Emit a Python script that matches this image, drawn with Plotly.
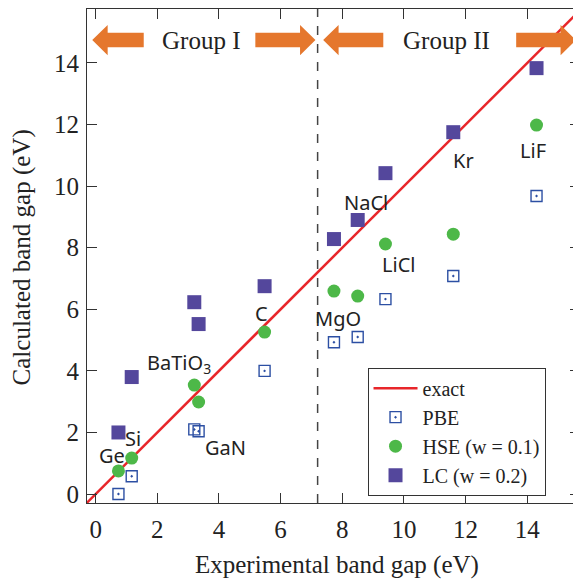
import plotly.graph_objects as go

# ---------------- data ----------------
materials = ["Ge", "Si", "BaTiO<sub>3</sub>", "GaN", "C", "MgO", "NaCl", "LiCl", "Kr", "LiF"]
experimental = [0.74, 1.17, 3.20, 3.34, 5.48, 7.73, 8.50, 9.40, 11.60, 14.30]
pbe = [0.00, 0.58, 2.10, 2.04, 4.00, 4.93, 5.10, 6.33, 7.08, 9.68]
hse = [0.75, 1.17, 3.54, 2.99, 5.26, 6.59, 6.43, 8.12, 8.44, 11.98]
lc = [2.00, 3.80, 6.23, 5.52, 6.75, 8.28, 8.90, 10.42, 11.75, 13.83]
exact_line = [-1.0, 17.0]

x_ticks = [0, 2, 4, 6, 8, 10, 12, 14]
y_ticks = [0, 2, 4, 6, 8, 10, 12, 14]
group_boundary = 7.2
group_names = ["Group I", "Group II"]

# label pixel offsets (relative to the point on the exact line)
label_shift = [(-6, 16), (1, 20), (-15, 32), (27, -56), (-3, 12),
               (4, -62), (8, 30), (13, -60), (10, -24), (-4, -97)]

x_range = [-0.28, 15.71]
y_range = [-0.29, 15.75]

fig = go.Figure()

fig.add_trace(go.Scatter(x=exact_line, y=exact_line, mode="lines", name="exact",
                         line=dict(color="#E8262A", width=2.5)))
fig.add_trace(go.Scatter(x=experimental, y=pbe, mode="markers", name="PBE",
                         marker=dict(symbol="square-open-dot", size=11, color="#2C4FA3",
                                     line=dict(width=1.4, color="#2C4FA3"))))
fig.add_trace(go.Scatter(x=experimental, y=hse, mode="markers", name="HSE (w = 0.1)",
                         marker=dict(symbol="circle", size=13, color="#4DB848")))
fig.add_trace(go.Scatter(x=experimental, y=lc, mode="markers", name="LC (w = 0.2)",
                         marker=dict(symbol="square", size=14, color="#54479C")))

# dashed group boundary
fig.add_shape(type="line", x0=group_boundary, x1=group_boundary, y0=0, y1=1,
              xref="x", yref="paper", line=dict(color="#444444", width=1.5, dash="dash"))

# orange block arrows
yc, hh, sh = 14.74, 0.49, 0.235
head_len = 0.5
arrows = [(-0.11, 1.56, "left"), (5.18, 7.13, "right"),
          (7.38, 9.33, "left"), (13.64, 15.58, "right")]
for a, b, d in arrows:
    if d == "left":
        hb = a + head_len
        path = (f"M {a},{yc} L {hb},{yc+hh} L {hb},{yc+sh} L {b},{yc+sh} "
                f"L {b},{yc-sh} L {hb},{yc-sh} L {hb},{yc-hh} Z")
    else:
        hb = b - head_len
        path = (f"M {b},{yc} L {hb},{yc+hh} L {hb},{yc+sh} L {a},{yc+sh} "
                f"L {a},{yc-sh} L {hb},{yc-sh} L {hb},{yc-hh} Z")
    fig.add_shape(type="path", path=path, xref="x", yref="y",
                  fillcolor="#E5772D", line=dict(width=0))

fig.add_annotation(x=3.41, y=yc, xref="x", yref="y", text=group_names[0], showarrow=False,
                   font=dict(family="Liberation Serif", size=25, color="#222222"))
fig.add_annotation(x=11.39, y=yc, xref="x", yref="y", text=group_names[1], showarrow=False,
                   font=dict(family="Liberation Serif", size=25, color="#222222"))

# material labels
for name, xe, (dx, dy) in zip(materials, experimental, label_shift):
    fig.add_annotation(x=xe, y=xe, xref="x", yref="y", text=name, showarrow=False,
                       xshift=dx, yshift=dy,
                       font=dict(family="Noto Sans", size=20, color="#222222"))

# axis titles
fig.add_annotation(x=0.508, y=-0.1255, xref="paper", yref="paper",
                   xanchor="center", yanchor="middle",
                   text="Experimental band gap (eV)", showarrow=False,
                   font=dict(family="Liberation Serif", size=25, color="#222222"))
fig.add_annotation(x=-0.131, y=0.498, xref="paper", yref="paper",
                   xanchor="center", yanchor="middle",
                   text="Calculated band gap (eV)", showarrow=False, textangle=-90,
                   font=dict(family="Liberation Serif", size=25, color="#222222"))

axis_common = dict(showgrid=False, zeroline=False, showline=True, mirror="ticks",
                   linecolor="#333333", linewidth=1, ticks="inside", ticklen=10,
                   tickcolor="#333333", tickwidth=1, automargin=False,
                   tickfont=dict(family="Liberation Serif", size=25, color="#222222"))

fig.update_xaxes(range=x_range, tickvals=x_ticks, ticklabelstandoff=4, **axis_common)
fig.update_yaxes(range=y_range, tickvals=y_ticks, ticklabelstandoff=2, **axis_common)

# page body has an 8px margin; figure sized so the plot area lands where the reference has it
fig.update_layout(
    width=573, height=574,
    margin=dict(l=79, r=1, t=1, b=79),
    paper_bgcolor="white", plot_bgcolor="white",
    legend=dict(x=0.569, y=0.274, xanchor="left", yanchor="top",
                bordercolor="#333333", borderwidth=1, bgcolor="white",
                font=dict(family="Liberation Serif", size=20, color="#222222"),
                itemwidth=44, tracegroupgap=0),
    showlegend=True,
)

fig.write_html("out.html")
